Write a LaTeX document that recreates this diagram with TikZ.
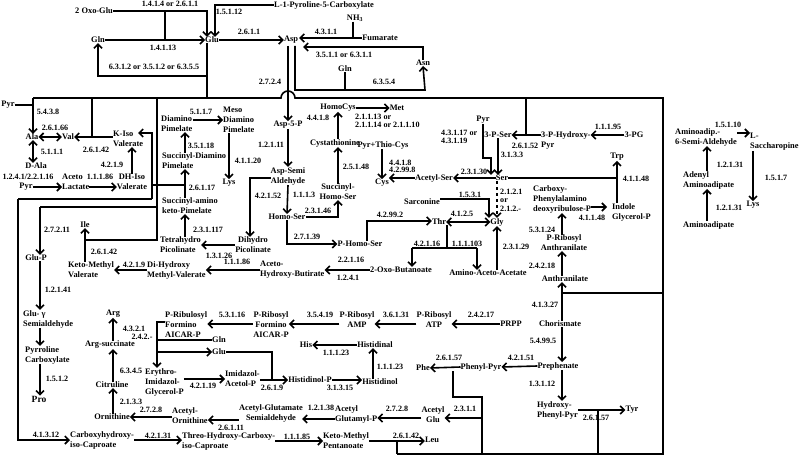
\documentclass[tikz,border=0pt]{standalone}
\usepackage{fontspec}
\setmainfont{Liberation Serif}
\usetikzlibrary{arrows.meta}
\tikzset{
 nd/.style={font=\fontsize{8.4}{10}\selectfont\bfseries, inner sep=0pt, align=center},
 ndl/.style={nd, align=left, anchor=west},
 ec/.style={font=\fontsize{8.1}{8.5}\selectfont\bfseries, inner sep=0pt, align=center},
 ecl/.style={ec, align=left, anchor=west},
 ln/.style={line width=1.6pt},
 ar/.style={ln, -{Straight Barb[length=4pt,width=8pt]}},
 dar/.style={ln, {Straight Barb[length=4pt,width=8pt]}-{Straight Barb[length=4pt,width=8pt]}},
}
\begin{document}
\begin{tikzpicture}[x=1pt,y=-1pt]
\useasboundingbox (0,0) rectangle (800,457);
\fill[white] (0,0) rectangle (800,457);
% ---------------- nodes ----------------
\node[nd] (oxoglu) at (94,11) {2 Oxo-Glu};
\node[nd] (gln1) at (98,40) {Gln};
\node[nd] (glu) at (212,40) {Glu};
\node[nd] (p5c) at (324,5) {L-1-Pyroline-5-Carboxylate};
\node[nd] (asp) at (291,40) {Asp};
\node[nd] (nh3) at (355,18) {NH\textsubscript{3}};
\node[nd] (fum) at (380,38) {Fumarate};
\node[nd] (gln2) at (345,69) {Gln};
\node[nd] (asn) at (423,63) {Asn};
\node[nd] (asp5p) at (288,125) {Asp-5-P};
\node[nd] (aspsa) at (288,176) {Asp-Semi\\Aldehyde};
\node[nd] (homoser) at (287,217) {Homo-Ser};
\node[nd] (phomoser) at (360,244) {P-Homo-Ser};
\node[nd] (shser) at (338,192) {Succinyl-\\Homo-Ser};
\node[nd] (cysta) at (335,143) {Cystathionine};
\node[nd] (homocys) at (338,108) {HomoCys};
\node[nd] (met) at (397,108) {Met};
\node[nd] (pyrthio) at (383,145) {Pyr+Thio-Cys};
\node[nd] (cys) at (382,183) {Cys};
\node[nd] (acser) at (434,178) {Acetyl-Ser};
\node[nd] (ser) at (502,178) {Ser};
\node[nd] (pyr2) at (483,120) {Pyr};
\node[nd] (pser) at (498,135) {3-P-Ser};
\node[ndl] (phpyr) at (541,140) {3-P-Hydroxy-\\Pyr};
\node[nd] (pg) at (634,135) {3-PG};
\node[nd] (sarc) at (422,202) {Sarconine};
\node[nd] (thr) at (439,222) {Thr};
\node[nd] (gly) at (497,222) {Gly};
\node[nd] (oxobut) at (401,270) {2-Oxo-Butanoate};
\node[nd] (aaa) at (488,273) {Amino-Aceto-Acetate};
\node[ndl] (cpad) at (533,199) {Carboxy-\\Phenylalamino\\deoxyribulose-P};
\node[ndl] (igp) at (612,212) {Indole\\Glycerol-P};
\node[nd] (trp) at (617,157) {Trp};
\node[nd] (pra) at (564,243) {P-Ribosyl\\Anthranilate};
\node[nd] (anth) at (565,279) {Anthranilate};
\node[nd] (chor) at (560,324) {Chorismate};
\node[nd] (preph) at (558,366) {Prephenate};
\node[ndl] (hpp) at (537,410) {Hydroxy-\\Phenyl-Pyr};
\node[nd] (tyr) at (632,410) {Tyr};
\node[nd] (phepyr) at (481,367) {Phenyl-Pyr};
\node[nd] (phe) at (423,368) {Phe};
\node[nd] (prpp) at (511,324) {PRPP};
\node[nd] (pratp) at (434,320) {P-Ribosyl\\ATP};
\node[nd] (pramp) at (357,320) {P-Ribosyl\\AMP};
\node[nd] (prfar) at (271,325) {P-Ribosyl\\Formino\\AICAR-P};
\node[ndl] (prufar) at (165,325) {P-Ribulosyl\\Formino\\AICAR-P};
\node[nd] (gln3) at (219,340) {Gln};
\node[nd] (glu3) at (219,352) {Glu};
\node[ndl] (eigp) at (145,382) {Erythro-\\Imidazol-\\Glycerol-P};
\node[ndl] (iap) at (225,379) {Imidazol-\\Acetol-P};
\node[nd] (hisp) at (310,380) {Histidinol-P};
\node[nd] (hisol) at (380,382) {Histidinol};
\node[nd] (hisal) at (375,345) {Histidinal};
\node[nd] (his) at (306,345) {His};
\node[nd] (arg) at (113,314) {Arg};
\node[nd] (argsuc) at (110,345) {Arg-succinate};
\node[nd] (citr) at (112,385) {Citruline};
\node[nd] (orn) at (112,417) {Ornithine};
\node[ndl] (acorn) at (172,416) {Acetyl-\\Ornithine};
\node[nd] (acgsa) at (271,413) {Acetyl-Glutamate\\Semialdehyde};
\node[ndl] (acgp) at (335,414) {Acetyl\\Glutamyl-P};
\node[nd] (acglu) at (433,415) {Acetyl\\Glu};
\node[ndl] (chic) at (70,440) {Carboxyhydroxy-\\iso-Caproate};
\node[ndl] (thchic) at (182,441) {Threo-Hydroxy-Carboxy-\\iso-Caproate};
\node[ndl] (kmp) at (323,441) {Keto-Methyl\\Pentanoate};
\node[nd] (leu) at (432,440) {Leu};
\node[nd] (glup) at (36,258) {Glu-P};
\node[ndl] (glusa) at (23,319) {Glu- γ\\Semialdehyde};
\node[ndl] (p5c2) at (25,355) {Pyrroline\\Carboxylate};
\node[nd, font=\fontsize{9.5}{10}\selectfont\bfseries] (pro) at (39,399) {Pro};
\node[nd] (ile) at (85,225) {Ile};
\node[ndl] (kmv) at (68,270) {Keto-Methyl\\Valerate};
\node[ndl] (dhmv) at (147,270) {Di-Hydroxy\\Methyl-Valerate};
\node[ndl] (ahb) at (260,270) {Aceto-\\Hydroxy-Butirate};
\node[nd] (dhpic) at (253,245) {Dihydro\\Picolinate};
\node[ndl] (thpic) at (160,245) {Tetrahydro\\Picolinate};
\node[ndl] (sakp) at (162,206) {Succinyl-amino\\keto-Pimelate};
\node[ndl] (sdap) at (162,161) {Succinyl-Diamino\\Pimelate};
\node[ndl] (dap) at (161,124) {Diamino\\Pimelate};
\node[ndl] (meso) at (223,120) {Meso\\Diamino\\Pimelate};
\node[nd] (lys1) at (229,183) {Lys};
\node[nd] (pyr1) at (8,105) {Pyr};
\node[nd] (ala) at (32,137) {Ala};
\node[nd] (val) at (68,137) {Val};
\node[ndl] (kiv) at (113,139) {K-Iso\\Valerate};
\node[nd] (dala) at (36,166) {D-Ala};
\node[nd] (pyr3) at (26,187) {Pyr};
\node[ndl] (acl) at (62,182) {Aceto\\Lactate};
\node[nd] (dhiv) at (132,182) {DH-Iso\\Valerate};
\node[ndl] (aasa) at (675,137) {Aminoadip.-\\6-Semi-Aldehyde};
\node[ndl] (sacch) at (750,142) {L-\\Saccharopine};
\node[ndl] (adaa) at (683,180) {Adenyl\\Aminoadipate};
\node[ndl] (aad) at (683,225) {Aminoadipate};
\node[nd] (lys2) at (753,205) {Lys};
% ---------------- enzyme labels ----------------
\node[ec] (e1) at (170,4) {1.4.1.4 or 2.6.1.1};
\node[ec] (e2) at (229,12) {1.5.1.12};
\node[ec] (e3) at (163,48) {1.4.1.13};
\node[ec] (e4) at (249,32) {2.6.1.1};
\node[ec] (e5) at (326,32) {4.3.1.1};
\node[ec] (e6) at (344,55) {3.5.1.1 or 6.3.1.1};
\node[ec] (e7) at (384,82) {6.3.5.4};
\node[ec] (e8) at (154,67) {6.3.1.2 or 3.5.1.2 or 6.3.5.5};
\node[ec] (e9) at (270,82) {2.7.2.4};
\node[ec] (e10) at (48,112) {5.4.3.8};
\node[ec] (e11) at (55,128) {2.6.1.66};
\node[ec] (e12) at (96,150) {2.6.1.42};
\node[ec] (e13) at (52,152) {5.1.1.1};
\node[ec] (e14) at (112,165) {4.2.1.9};
\node[ec] (e15) at (28,177) {1.2.4.1/2.2.1.16};
\node[ec] (e16) at (100,177) {1.1.1.86};
\node[ec] (e17) at (201,112) {5.1.1.7};
\node[ec] (e18) at (201,146) {3.5.1.18};
\node[ec] (e19) at (248,161) {4.1.1.20};
\node[ec] (e20) at (271,145) {1.2.1.11};
\node[ec] (e21) at (202,188) {2.6.1.17};
\node[ec] (e22) at (208,230) {2.3.1.117};
\node[ec] (e23) at (219,256) {1.3.1.26};
\node[ec] (e24) at (237,262) {1.1.1.86};
\node[ec] (e25) at (268,196) {4.2.1.52};
\node[ec] (e26) at (304,195) {1.1.1.3};
\node[ec] (e27) at (318,211) {2.3.1.46};
\node[ec] (e28) at (356,167) {2.5.1.48};
\node[ec] (e29) at (307,237) {2.7.1.39};
\node[ec] (e30) at (318,118) {4.4.1.8};
\node[ecl] (e31) at (355,121) {2.1.1.13 or\\2.1.1.14 or 2.1.1.10};
\node[ecl, font=\fontsize{8.1}{7}\selectfont\bfseries] (e32) at (389,166) {4.4.1.8\\4.2.99.8};
\node[ec] (e33) at (474,172) {2.3.1.30};
\node[ecl] (e34) at (441,137) {4.3.1.17 or\\4.3.1.19};
\node[ec] (e35) at (525,146) {2.6.1.52};
\node[ec] (e36) at (512,155) {3.1.3.3};
\node[ec] (e37) at (608,127) {1.1.1.95};
\node[ec] (e38) at (470,195) {1.5.3.1};
\node[ecl] (e39) at (500,200) {2.1.2.1\\or\\2.1.2.-};
\node[ec] (e40) at (462,214) {4.1.2.5};
\node[ec] (e41) at (390,215) {4.2.99.2};
\node[ec] (e42) at (427,244) {4.2.1.16};
\node[ec] (e43) at (467,244) {1.1.1.103};
\node[ec] (e44) at (516,247) {2.3.1.29};
\node[ec] (e45) at (351,260) {2.2.1.16};
\node[ec] (e46) at (348,278) {1.2.4.1};
\node[ec] (e47) at (636,179) {4.1.1.48};
\node[ec] (e48) at (592,218) {4.1.1.48};
\node[ec] (e49) at (542,230) {5.3.1.24};
\node[ec] (e50) at (542,266) {2.4.2.18};
\node[ec] (e51) at (545,305) {4.1.3.27};
\node[ec] (e52) at (543,341) {5.4.99.5};
\node[ec] (e53) at (521,358) {4.2.1.51};
\node[ec] (e54) at (449,358) {2.6.1.57};
\node[ec] (e55) at (542,384) {1.3.1.12};
\node[ec] (e56) at (596,418) {2.6.1.57};
\node[ec] (e57) at (481,315) {2.4.2.17};
\node[ec] (e58) at (396,315) {3.6.1.31};
\node[ec] (e59) at (320,315) {3.5.4.19};
\node[ec] (e60) at (232,315) {5.3.1.16};
\node[ec] (e61) at (142,337) {2.4.2.-};
\node[ec] (e62) at (134,329) {4.3.2.1};
\node[ec] (e63) at (131,371) {6.3.4.5};
\node[ec] (e64) at (131,402) {2.1.3.3};
\node[ec] (e65) at (151,410) {2.7.2.8};
\node[ec] (e66) at (231,428) {2.6.1.11};
\node[ec] (e67) at (321,408) {1.2.1.38};
\node[ec] (e68) at (397,409) {2.7.2.8};
\node[ec] (e69) at (465,409) {2.3.1.1};
\node[ec] (e70) at (336,353) {1.1.1.23};
\node[ec] (e71) at (390,367) {1.1.1.23};
\node[ec] (e72) at (340,388) {3.1.3.15};
\node[ec] (e73) at (272,388) {2.6.1.9};
\node[ec] (e74) at (203,386) {4.2.1.19};
\node[ec] (e75) at (46,435) {4.1.3.12};
\node[ec] (e76) at (158,436) {4.2.1.31};
\node[ec] (e77) at (297,437) {1.1.1.85};
\node[ec] (e78) at (406,436) {2.6.1.42};
\node[ec] (e79) at (57,230) {2.7.2.11};
\node[ec] (e80) at (58,290) {1.2.1.41};
\node[ec] (e81) at (104,252) {2.6.1.42};
\node[ec] (e82) at (134,265) {4.2.1.9};
\node[ec] (e83) at (57,379) {1.5.1.2};
\node[ec] (e84) at (728,125) {1.5.1.10};
\node[ec] (e85) at (730,165) {1.2.1.31};
\node[ec] (e86) at (729,208) {1.2.1.31};
\node[ec] (e87) at (776,178) {1.5.1.7};
% ---------------- junction coordinates ----------------
\coordinate (cA) at (207,11);
\coordinate (cB) at (165,11);
\coordinate (cC) at (215,5);
\coordinate (cE) at (303,47);
\coordinate (cF) at (295,46);
\coordinate (cG) at (425,90);
\coordinate (cH) at (207,98);
\coordinate (cI) at (207,76);
\coordinate (cAsp) at (288,46);
\coordinate (L0) at (33,98);
\coordinate (Lh) at (281,98);
\coordinate (L1) at (663,98);
\coordinate (L2) at (663,454);
\coordinate (L3) at (397,454);
\coordinate (cJ) at (92,98);
\coordinate (cK) at (92,137);
\coordinate (cL) at (152,185);
\coordinate (cM) at (138,133);
\coordinate (cN) at (185,185);
\coordinate (cO) at (157,98);
\coordinate (cP) at (157,240);
\coordinate (cQ) at (152,199);
\coordinate (cR) at (157,207);
\coordinate (cS) at (250,178);
\coordinate (cT) at (367,221);
\coordinate (cU) at (489,199);
\coordinate (cV) at (447,248);
\coordinate (cW) at (412,248);
\coordinate (cX) at (477,248);
\coordinate (cZ) at (483,158);
\coordinate (cZ2) at (491,158);
\coordinate (cAA) at (526,98);
\coordinate (cAB) at (617,178);
\coordinate (cAC) at (607,207);
\coordinate (cCh) at (562,293);
\coordinate (cBx) at (663,293);
\coordinate (cPh1) at (453,397);
\coordinate (cPh2) at (482,397);
\coordinate (cPh3) at (482,454);
\coordinate (cPh4) at (482,418);
\coordinate (cTy) at (598,410);
\coordinate (cTy2) at (598,454);
\coordinate (cAD) at (157,322);
\coordinate (cAE) at (272,352);
\coordinate (cAF) at (18,199);
\coordinate (cAG) at (18,440);
\coordinate (cAH) at (40,207);
\coordinate (cLe) at (397,441);
\coordinate (cAO) at (707,133);
\coordinate (cNH) at (353,38);
\coordinate (cHi) at (373,345);
\coordinate (cOr) at (172,420);
\coordinate (cGs) at (302,419);
% ---------------- connectors ----------------
% top
\draw[ar] (oxoglu.east) -- (cA) -- (cA |- glu.north);
\draw[ln] (cB) -- (cB |- gln1);
\draw[ar] (p5c.west) -- (cC) -- (cC |- glu.north);
\draw[ar] (gln1.east) -- (glu.west);
\draw[ar] (glu.east) -- (asp.west);
\draw[ar, shorten >=1pt] (fum.west) -- (fum.west -| asp.east);
\draw[ln] (cNH |- nh3.south) -- (cNH);
\draw[ar] (asn.north) |- (cE);
\draw[ar] (cF) |- (cG) -- (asn.south);
\draw[ln] (gln2.south) -- (gln2.south |- cG);
\draw[ln] (glu.south -| cH) -- (cH);
\draw[ar] (cI) -| (gln1.south);
% main horizontal line and right box
\draw[ln] (L0) -- (Lh) arc[start angle=180, end angle=360, radius=7] -- (L1) -- (L2) -- (L3);
\draw[ar] (cAsp) -- (asp5p.north);
% left Ala/Val
\draw[ln] (pyr1.east) -- (pyr1.east -| L0);
\draw[ar] (L0) -- (ala.north -| L0);
\draw[dar] (ala.east) -- (val.west);
\draw[dar] (ala.south -| L0) -- (dala.north -| L0);
\draw[ln] (cJ) -- (cK);
\draw[ar] (cK) -- (val.east);
\draw[ln] (cK) -- (kiv.west |- cK);
\draw[ar] (dhiv.north) -- (dhiv.north |- kiv.south);
\draw[ar] (pyr3.east) -- (pyr3.east -| acl.west);
\draw[ar] (acl.east |- pyr3) -- (dhiv.west |- pyr3);
\draw[ar] (cQ) -- (cQ |- cM) -- (cM);
\draw[ln] (cO) -- (cP) -- (cP -| ile);
\draw[ln] (cL) -- (cN);
\draw[ln] (cAF) -- (cQ);
\draw[ln] (cAH) -- (cR);
% DAP / lysine
\draw[ar] (sakp.north -| cN) -- (sdap.south -| cN);
\draw[ar] (sdap.north -| cN) -- (dap.south -| cN);
\draw[ar] (thpic.north -| cN) -- (sakp.south -| cN);
\draw[ar] (dap.east |- meso) -- (meso.west);
\draw[ar] (meso.south -| lys1) -- (lys1.north);
\draw[ar] (asp5p.south) -- (aspsa.north);
\draw[ar] (aspsa.west |- cS) -- (cS) -- (cS |- dhpic.north);
\draw[ar] (dhpic.west) -- (thpic.east |- dhpic.west);
% threonine / methionine
\draw[ar] (aspsa.south) -- (homoser.north);
\draw[ar] (homoser.east) -| (shser.south);
\draw[ar] (shser.north) -- (shser.north |- cysta.south);
\draw[ar] (cysta.north -| homocys) -- (homocys.south);
\draw[ar] (homocys.east) -- (met.west);
\draw[ar] (pyrthio.south -| cys) -- (cys.north);
\draw[ar] (acser.west) -- (acser.west -| cys.east);
\draw[ar] (ser.west) -- (acser.east);
\draw[ar] (homoser.south) |- (phomoser.west);
\draw[ar] (phomoser.north -| cT) -- (cT) -- (thr.west |- cT);
\draw[dar] (thr.east) -- (gly.west);
\draw[ar] (sarc.east |- cU) -- (cU) -- (cU |- gly.north);
\draw[ar, dashed] (ser.south -| gly) -- (gly.north);
\draw[ln] (thr.south -| cV) -- (cV);
\draw[ln] (cW) -- (cX);
\draw[ar] (cW) -- (cW |- oxobut.north);
\draw[ar] (cX) -- (cX |- aaa.north);
\draw[ar] (aaa.north -| gly) -- (gly.south);
\draw[ar] (oxobut.west) -- (oxobut.west -| ahb.east);
\draw[ar] (ahb.west) -- (ahb.west -| dhmv.east);
\draw[ar] (dhmv.west) -- (dhmv.west -| kmv.east);
\draw[ar] (kmv.north -| ile) -- (ile.south);
% serine
\draw[ar] (pyr2.south) -- (cZ) -- (cZ2) -- (cZ2 |- ser.north);
\draw[ar] (pser.south) -- (pser.south |- ser.north);
\draw[ar] (phpyr.west |- pser) -- (pser.east);
\draw[ln] (cAA) -- (cAA |- pser);
\draw[ar] (pg.west) -- (pg.west -| phpyr.east);
% aromatic
\draw[ln] (ser.east) -- (cAB);
\draw[ar] (igp.north -| cAB) -- (trp.south -| cAB);
\draw[ar] (cpad.east |- cAC) -- (cAC);
\draw[ar] (pra.north -| cCh) -- (cpad.south -| cCh);
\draw[ar] (anth.north -| cCh) -- (pra.south -| cCh);
\draw[ar] (chor.north -| cCh) -- (anth.south -| cCh);
\draw[ln] (cCh) -- (cBx);
\draw[ar] (chor.south -| cCh) -- (preph.north -| cCh);
\draw[ar] (preph.west) -- (phepyr.east);
\draw[ar] (phepyr.west) -- (phe.east);
\draw[ln] (phepyr.south -| cPh1) -- (cPh1) -- (cPh2) -- (cPh3);
\draw[ar] (cPh4) -- (cPh4 -| acglu.east);
\draw[ar] (preph.south -| cCh) -- (hpp.north -| cCh);
\draw[ar] (hpp.east |- tyr) -- (tyr.west);
\draw[ln] (cTy) -- (cTy2);
% histidine
\draw[ar] (prpp.west) -- (prpp.west -| pratp.east);
\draw[ar] (pratp.west |- prpp) -- (pramp.east |- prpp);
\draw[ar] (pramp.west |- prpp) -- (prfar.east |- prpp);
\draw[ar] (prfar.west |- prpp) -- (prufar.east |- prpp);
\draw[ar] (prufar.west |- cAD) -- (cAD) -- (cAD |- eigp.north);
\draw[ln] (cAD |- gln3) -- (gln3.west);
\draw[ar] (cAD |- glu3) -- (glu3.west);
\draw[ln] (glu3.east) -- (cAE) -- (cAE |- hisp);
\draw[ar] (eigp.east |- iap) -- (iap.west);
\draw[ar] (iap.east |- hisp) -- (hisp.west);
\draw[ar] (hisp.east) -- (hisp.east -| hisol.west);
\draw[ar] (cHi |- hisol.north) -- (cHi |- hisal.south);
\draw[ar] (hisal.west) -- (his.east);
% arginine
\draw[ar] (argsuc.north -| arg) -- (arg.south);
\draw[ar] (citr.north -| arg) -- (argsuc.south -| arg);
\draw[ar] (orn.north -| arg) -- (citr.south -| arg);
\draw[ar] (acorn.west |- orn) -- (orn.east);
\draw[ar] (acgsa.west |- cOr) -- (acorn.east |- cOr);
\draw[ar] (acgp.west |- cGs) -- (cGs);
\draw[ar] (acglu.west |- cPh4) -- (acgp.east |- cPh4);
% leucine
\draw[ar] (cAF) -- (cAG) -- (chic.west |- cAG);
\draw[ar] (chic.east |- cAG) -- (thchic.west |- cAG);
\draw[ar] (thchic.east |- cLe) -- (kmp.west |- cLe);
\draw[ar] (kmp.east |- cLe) -- (leu.west |- cLe);
\draw[ln] (cLe) -- (L3);
% proline
\draw[ar] (cAH) -- (glup.north -| cAH);
\draw[ar] (glup.south -| cAH) -- (glusa.north -| cAH);
\draw[ar] (glusa.south -| cAH) -- (p5c2.north -| cAH);
\draw[ar] (p5c2.south -| cAH) -- (pro.north -| cAH);
% lysine (aminoadipate)
\draw[ar] (aasa.east |- cAO) -- (sacch.west |- cAO);
\draw[ar] (adaa.north -| cAO) -- (aasa.south -| cAO);
\draw[ar] (aad.north -| cAO) -- (adaa.south -| cAO);
\draw[ar] (sacch.south -| lys2) -- (lys2.north);
\end{tikzpicture}
\end{document}
